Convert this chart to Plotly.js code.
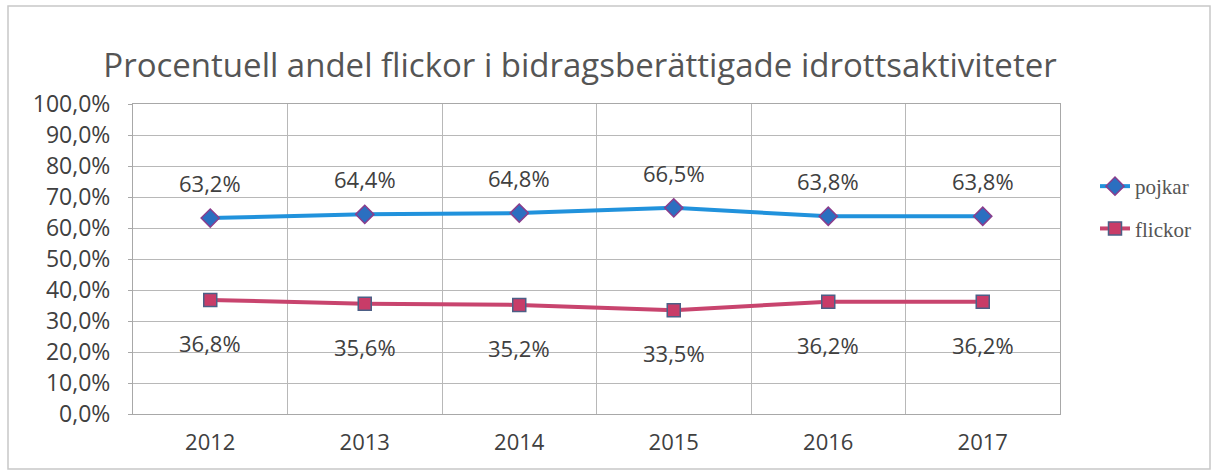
<!DOCTYPE html>
<html>
<head>
<meta charset="utf-8">
<script src="https://cdn.plot.ly/plotly-3.0.1.min.js"></script>
<style>
html,body{margin:0;padding:0;background:#fff;}
#chart{width:1213px;height:473px;}
</style>
</head>
<body>
<div id="chart"></div>
<script>
const years = ['2012','2013','2014','2015','2016','2017'];
const pojkar = [63.2, 64.4, 64.8, 66.5, 63.8, 63.8];
const flickor = [36.8, 35.6, 35.2, 33.5, 36.2, 36.2];
const seriesNames = ['pojkar','flickor'];
const yTicks = [0,10,20,30,40,50,60,70,80,90,100];
const titleText = 'Procentuell andel flickor i bidragsberättigade idrottsaktiviteter';

const W = 1213, H = 473;
const M = {l:133, r:153, t:104, b:59};
const pw = W - M.l - M.r, ph = H - M.t - M.b;
const SANS = '"Open Sans", Lato, sans-serif';

function fmt(v){ return v.toFixed(1).replace('.', ',') + '%'; }

const labelFont = {family:SANS, size:22, color:'#404040'};
const annotations = [];
years.forEach((yr,i)=>{
  annotations.push({x:i, y:pojkar[i], xref:'x', yref:'y', text:fmt(pojkar[i]), showarrow:false, yshift:35, font:labelFont});
  annotations.push({x:i, y:flickor[i], xref:'x', yref:'y', text:fmt(flickor[i]), showarrow:false, yshift:-43, font:labelFont});
});

const traces = [
  {x:years, y:pojkar, name:seriesNames[0], type:'scatter', mode:'lines+markers', legendgroup:'a',
   line:{color:'#2192dc', width:4},
   marker:{symbol:'diamond', size:14, color:'#2b6fc0', line:{color:'#8a3d8c', width:1.5}}},
  {x:years, y:flickor, name:seriesNames[1], type:'scatter', mode:'lines+markers', legendgroup:'b',
   line:{color:'#c8446e', width:4},
   marker:{symbol:'square', size:13, color:'#c83c68', line:{color:'#4c5f86', width:1.5}}}
];

const layout = {
  width:W, height:H,
  margin:M,
  paper_bgcolor:'#fff', plot_bgcolor:'#fff',
  title:{text:titleText, x:580/W, xref:'container', xanchor:'center', y:1-65/H, yref:'container', yanchor:'middle',
         font:{family:SANS, size:33, color:'#555555'}},
  xaxis:{type:'category', tickson:'boundaries', showgrid:true, gridcolor:'#b8b8b8', gridwidth:1,
         showline:true, linecolor:'#a8a8a8', mirror:true, ticks:'', ticklen:0,
         tickfont:{family:SANS, size:22, color:'#404040'}, ticklabelstandoff:9,
         range:[-0.5, 5.5], fixedrange:true},
  yaxis:{range:[0,100], tickvals:yTicks, ticktext:yTicks.map(v=>v.toFixed(1).replace('.',',')+'%'),
         showgrid:true, gridcolor:'#b8b8b8', gridwidth:1, zeroline:false,
         showline:true, linecolor:'#a8a8a8', mirror:true, ticks:'outside', ticklen:4, tickcolor:'#a8a8a8',
         tickfont:{family:SANS, size:23, color:'#404040'}, ticklabelstandoff:13},
  showlegend:true,
  legend:{x:(1095-M.l)/pw, xanchor:'left', y:(H-M.b-166)/ph, yanchor:'top', traceorder:'grouped', tracegroupgap:12,
          font:{family:'"Liberation Serif", "DejaVu Serif", serif', size:21, color:'#555'}, bgcolor:'rgba(0,0,0,0)'},
  annotations:annotations,
  shapes:[{type:'rect', xref:'paper', yref:'paper',
           x0:(8-M.l)/pw, x1:(1210-M.l)/pw, y0:(H-M.b-469)/ph, y1:(H-M.b-6)/ph,
           line:{color:'#c8c8c8', width:1.5}, fillcolor:'rgba(0,0,0,0)'}]
};

Plotly.newPlot('chart', traces, layout, {displayModeBar:false, staticPlot:true});
</script>
</body>
</html>
